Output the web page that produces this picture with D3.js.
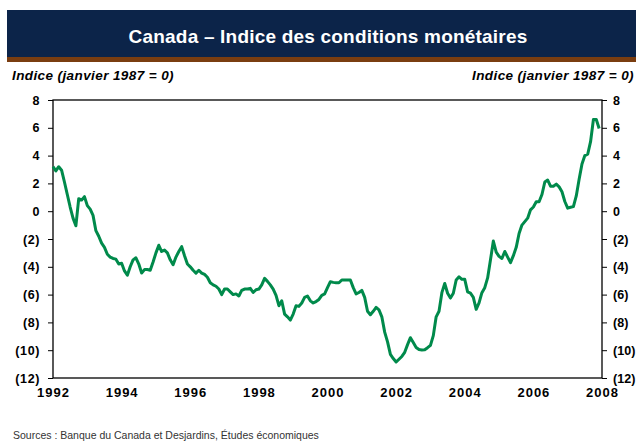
<!DOCTYPE html>
<html><head><meta charset="utf-8">
<script src="https://cdn.jsdelivr.net/npm/d3@7"></script>
<style>
body{margin:0;background:#fff;}
svg{display:block;font-family:"Liberation Sans",Arial,sans-serif;}
</style></head>
<body><svg id="c" width="636" height="442"></svg>
<script>
const years = [1992,1993,1994,1995,1996,1997,1998,1999,2000,2001,2002,2003,2004,2005,2006,2007];
const v1992 = [3.2,2.9,3.2,2.95,2.1,1.2,0.3,-0.5,-1.05,0.9,0.8,1.05];
const v1993 = [0.4,0.15,-0.3,-1.4,-1.8,-2.3,-2.6,-3.1,-3.3,-3.4,-3.45,-3.8];
const v1994 = [-3.75,-4.3,-4.6,-4.0,-3.5,-3.35,-3.8,-4.45,-4.2,-4.2,-4.25,-3.65];
const v1995 = [-3.0,-2.45,-2.9,-2.8,-3.0,-3.5,-3.85,-3.3,-2.9,-2.55,-3.2,-3.8];
const v1996 = [-4.0,-4.25,-4.45,-4.25,-4.45,-4.55,-4.75,-5.15,-5.3,-5.4,-5.6,-6.0];
const v1997 = [-5.6,-5.6,-5.8,-6.0,-5.95,-6.1,-5.7,-5.6,-5.6,-5.55,-5.85,-5.65];
const v1998 = [-5.6,-5.3,-4.83,-5.05,-5.3,-5.6,-6.05,-6.8,-6.45,-7.4,-7.6,-7.83];
const v1999 = [-7.4,-6.8,-6.85,-6.6,-6.2,-6.1,-6.45,-6.6,-6.5,-6.35,-6.05,-5.95];
const v2000 = [-5.5,-5.07,-5.12,-5.15,-5.15,-4.95,-4.95,-4.95,-4.95,-5.5,-5.95,-5.85];
const v2001 = [-5.7,-6.2,-7.2,-7.45,-7.2,-6.92,-7.1,-7.6,-8.7,-9.4,-10.3,-10.6];
const v2002 = [-10.85,-10.65,-10.45,-10.15,-9.6,-9.1,-9.45,-9.8,-9.95,-9.98,-9.97,-9.82];
const v2003 = [-9.65,-8.95,-7.6,-7.2,-5.86,-5.2,-5.9,-6.25,-5.9,-4.95,-4.72,-4.9];
const v2004 = [-4.9,-5.8,-5.9,-6.2,-7.06,-6.6,-5.86,-5.5,-4.8,-3.5,-2.15,-2.95];
const v2005 = [-3.25,-3.4,-2.9,-3.3,-3.7,-3.2,-2.6,-1.6,-1.0,-0.75,-0.5,0.1];
const v2006 = [0.3,0.68,0.68,1.2,2.1,2.24,1.8,1.8,1.95,1.75,1.4,0.7];
const v2007 = [0.22,0.28,0.33,1.1,2.3,3.4,4.0,4.1,5.0,6.6,6.6,5.95];
const monthly = [v1992,v1993,v1994,v1995,v1996,v1997,v1998,v1999,v2000,v2001,v2002,v2003,v2004,v2005,v2006,v2007];
const xTicks = [1992,1994,1996,1998,2000,2002,2004,2006,2008];
const yTicks = [8,6,4,2,0,-2,-4,-6,-8,-10,-12];
const title = "Canada – Indice des conditions monétaires";
const axisTitle = "Indice (janvier 1987 = 0)";
const source = "Sources : Banque du Canada et Desjardins, Études économiques";

const data = [];
monthly.forEach((arr,i)=>arr.forEach((v,m)=>data.push({t: years[i] + m/12, v})));

const svg = d3.select("#c");
const L=53, R=602, T=100, B=378;
const x = d3.scaleLinear().domain([1992,2008]).range([L,R]);
const y = d3.scaleLinear().domain([-12,8]).range([B,T]);

// title bar
svg.append("rect").attr("x",7).attr("y",10).attr("width",629).attr("height",47).attr("fill","#0c2449");
svg.append("rect").attr("x",7).attr("y",57).attr("width",629).attr("height",5).attr("fill","#7a3d10");
svg.append("text").attr("x",328).attr("y",43).attr("text-anchor","middle")
  .attr("fill","#fff").attr("font-weight","bold").attr("font-size",19).attr("letter-spacing",0.2).text(title);

// axis titles
svg.append("text").attr("x",12).attr("y",80).attr("font-size",13.5).attr("font-weight","bold")
  .attr("font-style","italic").attr("letter-spacing",0.4).text(axisTitle);
svg.append("text").attr("x",634).attr("y",80).attr("text-anchor","end").attr("font-size",13.5)
  .attr("font-weight","bold").attr("font-style","italic").attr("letter-spacing",0.4).text(axisTitle);

const fmt = d => d<0 ? "("+(-d)+")" : String(d);

const gl = svg.append("g").attr("transform",`translate(${L},0)`)
  .call(d3.axisLeft(y).tickValues(yTicks).tickFormat(fmt).tickSize(5).tickPadding(8));
const gr = svg.append("g").attr("transform",`translate(${R},0)`)
  .call(d3.axisRight(y).tickValues(yTicks).tickFormat(fmt).tickSize(5).tickPadding(6));
const gb = svg.append("g").attr("transform",`translate(0,${B})`)
  .call(d3.axisBottom(x).tickValues(xTicks).tickFormat(d3.format("d")).tickSize(0).tickPadding(10));
[gl,gr,gb].forEach(g=>{
  g.selectAll("path").attr("stroke","#000").attr("stroke-width",1.3);
  g.selectAll("line").attr("stroke","#000");
  g.selectAll("text").attr("font-size",12.5).attr("font-weight","bold").attr("fill","#000")
    .attr("letter-spacing",0.6).attr("font-family","'Liberation Sans',Arial,sans-serif");
});
gr.selectAll("text").attr("letter-spacing",0.1);
gb.selectAll("text").attr("font-size",13).attr("letter-spacing",1);
gl.select(".domain").remove(); gr.select(".domain").remove(); gb.select(".domain").remove();
// frame
svg.append("rect").attr("x",L).attr("y",T).attr("width",R-L).attr("height",B-T)
  .attr("fill","none").attr("stroke","#000").attr("stroke-width",1.3);

// line
svg.append("path").datum(data)
  .attr("d", d3.line().x(d=>x(d.t)).y(d=>y(d.v)))
  .attr("fill","none").attr("stroke","#008a4b").attr("stroke-width",3).attr("stroke-linejoin","round");

svg.append("text").attr("x",13).attr("y",439).attr("font-size",10.5).attr("fill","#333").text(source);
</script></body></html>
